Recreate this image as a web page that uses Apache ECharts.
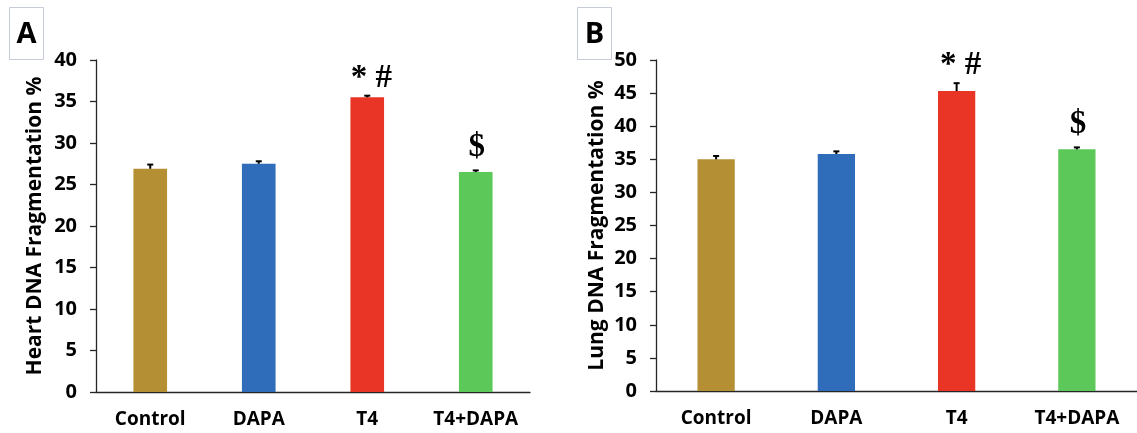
<!DOCTYPE html>
<html>
<head>
<meta charset="utf-8">
<style>
  html, body { margin: 0; padding: 0; background: #ffffff; }
  #chart { width: 1137px; height: 433px; }
</style>
<script src="https://cdn.jsdelivr.net/npm/echarts@6/dist/echarts.min.js"></script>
</head>
<body>
<div id="chart"></div>
<script>
// Groups on the x axis
const categories = ['Control', 'DAPA', 'T4', 'T4+DAPA'];

// Panel A: heart DNA fragmentation (%), mean and SE
const heartMean = [26.9, 27.5, 35.5, 26.5];
const heartErr = [0.5, 0.3, 0.2, 0.2];

// Panel B: lung DNA fragmentation (%), mean and SE
const lungMean = [35.0, 35.8, 45.3, 36.5];
const lungErr = [0.5, 0.4, 1.2, 0.3];

// Significance marks above each group
const sigMarks = ['', '', '* #', '$'];

// Axis ranges
const heartMax = 40;
const lungMax = 50;
const tickStep = 5;

const barColors = ['#b58f34', '#2f6dba', '#e83526', '#5dc85a'];

const AXIS_COLOR = '#262626';
const SANS = '"Open Sans", "Noto Sans", sans-serif';
const SERIF = '"Liberation Serif", "DejaVu Serif", serif';

function barSeries(idx, means) {
  return {
    type: 'bar',
    xAxisIndex: idx,
    yAxisIndex: idx,
    barWidth: '31%',
    data: means.map((v, i) => ({ value: v, itemStyle: { color: barColors[i] } })),
    z: 2
  };
}

function errorSeries(idx, means, errs) {
  return {
    type: 'custom',
    xAxisIndex: idx,
    yAxisIndex: idx,
    z: 3,
    data: means.map((v, i) => [i, v, errs[i]]),
    renderItem: function (params, api) {
      const i = api.value(0);
      const m = api.value(1);
      const e = api.value(2);
      const base = api.coord([i, m]);
      const top = api.coord([i, m + e]);
      const children = [
        { type: 'line', shape: { x1: base[0], y1: base[1], x2: top[0], y2: top[1] },
          style: { stroke: '#000', lineWidth: 2 } },
        { type: 'line', shape: { x1: top[0] - 3, y1: top[1], x2: top[0] + 3, y2: top[1] },
          style: { stroke: '#000', lineWidth: 2 } }
      ];
      const mark = sigMarks[params.dataIndex];
      if (mark) {
        const multi = mark.length > 1;
        children.push({
          type: 'text',
          x: top[0] + (multi ? 4 : 1),
          y: top[1] - (multi ? 1 : 6),
          style: {
            text: mark,
            font: 'bold 33px ' + SERIF,
            fill: '#000',
            align: 'center',
            verticalAlign: 'bottom'
          }
        });
      }
      return { type: 'group', children: children };
    }
  };
}

function xAxis(idx) {
  return {
    type: 'category',
    gridIndex: idx,
    data: categories,
    axisLine: { lineStyle: { color: AXIS_COLOR, width: 1.3 } },
    axisTick: { length: 7, lineStyle: { color: AXIS_COLOR, width: 1.3 } },
    axisLabel: { interval: 0, color: '#000', fontFamily: SANS, fontWeight: 'bold', fontSize: 19, margin: 18 }
  };
}

function yAxis(idx, max, title, gap) {
  return {
    type: 'value',
    gridIndex: idx,
    min: 0,
    max: max,
    interval: tickStep,
    splitLine: { show: false },
    axisLine: { show: true, lineStyle: { color: AXIS_COLOR, width: 1.3 } },
    axisTick: { show: true, length: 6, lineStyle: { color: AXIS_COLOR, width: 1.3 } },
    axisLabel: { color: '#000', fontFamily: SANS, fontWeight: 'bold', fontSize: 20, margin: 19 },
    name: title,
    nameLocation: 'middle',
    nameGap: gap,
    nameTextStyle: { color: '#000', fontFamily: SANS, fontWeight: 'bold', fontSize: 21 }
  };
}

function panelTag(letter, left, top) {
  return {
    type: 'group',
    left: left,
    top: top,
    children: [
      { type: 'rect', shape: { x: 0, y: 0, width: 34, height: 52 },
        style: { fill: '#fff', stroke: '#c6cbd9', lineWidth: 1 } },
      { type: 'text', x: 17, y: 27,
        style: { text: letter, font: 'bold 29px ' + SANS, fill: '#000',
                 align: 'center', verticalAlign: 'middle' } }
    ]
  };
}

const chart = echarts.init(document.getElementById('chart'), null, { renderer: 'canvas' });
chart.setOption({
  animation: false,
  backgroundColor: '#ffffff',
  grid: [
    { left: 96, right: 607, top: 60, bottom: 41 },
    { left: 656, right: -4, top: 60, bottom: 42 }
  ],
  xAxis: [xAxis(0), xAxis(1)],
  yAxis: [
    yAxis(0, heartMax, 'Heart DNA Fragmentation %', 50),
    yAxis(1, lungMax, 'Lung DNA Fragmentation %', 48)
  ],
  series: [
    barSeries(0, heartMean),
    errorSeries(0, heartMean, heartErr),
    barSeries(1, lungMean),
    errorSeries(1, lungMean, lungErr)
  ],
  graphic: [
    panelTag('A', 9, 7),
    panelTag('B', 577, 7)
  ]
});
</script>
</body>
</html>
